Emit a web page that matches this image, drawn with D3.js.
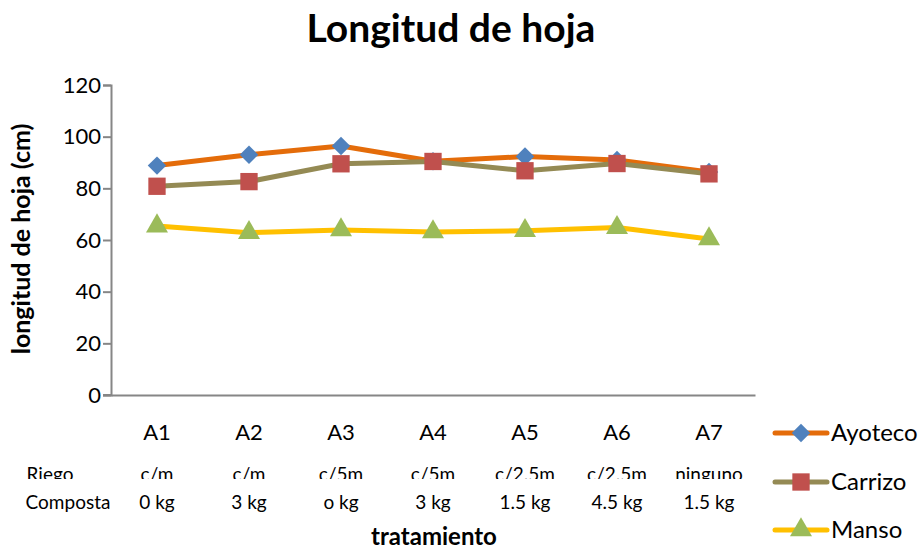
<!DOCTYPE html>
<html>
<head>
<meta charset="utf-8">
<script src="https://cdn.jsdelivr.net/npm/d3@7"></script>
<style>
  body { margin: 0; background: #fff; }
  text { font-family: Lato, "Open Sans", sans-serif; fill: #000; }
</style>
</head>
<body>
<div id="chart"></div>
<script>
// data
var categories = ["A1", "A2", "A3", "A4", "A5", "A6", "A7"];
var riego = ["c/m", "c/m", "c/5m", "c/5m", "c/2.5m", "c/2.5m", "ninguno"];
var composta = ["0 kg", "3 kg", "o kg", "3 kg", "1.5 kg", "4.5 kg", "1.5 kg"];
var ayoteco = [88.8, 93.0, 96.4, 90.5, 92.3, 91.0, 86.3];
var carrizo = [80.8, 82.6, 89.5, 90.4, 86.8, 89.6, 85.6];
var manso = [65.4, 62.8, 63.9, 63.1, 63.6, 64.8, 60.4];
var yTicks = [0, 20, 40, 60, 80, 100, 120];

var series = [
    { name: "Ayoteco", values: ayoteco, line: "#E46C0A", marker: "#4F81BD", shape: "diamond" },
    { name: "Carrizo", values: carrizo, line: "#948A54", marker: "#C0504D", shape: "square" },
    { name: "Manso",   values: manso,   line: "#FFC000", marker: "#9BBB59", shape: "triangle" }
];

var width = 924, height = 550;
var plotLeft = 111, plotRight = 755, plotTop = 85, plotBottom = 395;

var svg = d3.select("#chart").append("svg")
    .attr("width", width)
    .attr("height", height);

var x = d3.scaleBand().domain(categories).range([plotLeft, plotRight]);
var y = d3.scaleLinear().domain([0, 120]).range([plotBottom, plotTop]);
var cx = function (d) { return x(d) + x.bandwidth() / 2; };

// title
svg.append("text")
    .attr("x", 451).attr("y", 42)
    .attr("text-anchor", "middle")
    .style("font-size", "39px").style("font-weight", "bold")
    .text("Longitud de hoja");

// y axis
var yAxis = svg.append("g")
    .attr("transform", "translate(" + plotLeft + ",0)")
    .call(d3.axisLeft(y).tickValues(yTicks).tickSize(8).tickPadding(2));
yAxis.select(".domain").attr("stroke", "#868686").attr("stroke-width", 2);
yAxis.selectAll(".tick line").attr("stroke", "#868686").attr("stroke-width", 2);
yAxis.selectAll(".tick text")
    .style("font-size", "22px")
    .style("font-family", "Lato, 'Open Sans', sans-serif")
    .attr("fill", "#000");

// x axis line (no ticks, labels drawn below)
var xAxis = svg.append("g")
    .attr("transform", "translate(0," + plotBottom + ")")
    .call(d3.axisBottom(x).tickSize(0).tickFormat(""));
xAxis.select(".domain").attr("stroke", "#868686").attr("stroke-width", 2);
svg.append("line")
    .attr("x1", plotLeft - 8).attr("x2", plotLeft)
    .attr("y1", plotBottom).attr("y2", plotBottom)
    .attr("stroke", "#868686").attr("stroke-width", 2);

// category labels
svg.selectAll("text.cat").data(categories).enter().append("text")
    .attr("class", "cat")
    .attr("x", cx).attr("y", 440)
    .attr("text-anchor", "middle")
    .style("font-size", "22px")
    .text(function (d) { return d; });

// Riego row (clipped at bottom as in the original)
svg.append("clipPath").attr("id", "riegoClip")
    .append("rect").attr("x", 0).attr("y", 455).attr("width", 800).attr("height", 24);
var riegoRow = svg.append("g").attr("clip-path", "url(#riegoClip)");
riegoRow.append("text")
    .attr("x", 50).attr("y", 481)
    .attr("text-anchor", "middle")
    .style("font-size", "19px")
    .text("Riego");
riegoRow.selectAll("text.riego").data(riego).enter().append("text")
    .attr("class", "riego")
    .attr("x", function (d, i) { return cx(categories[i]); }).attr("y", 481)
    .attr("text-anchor", "middle")
    .style("font-size", "19px")
    .text(function (d) { return d; });

// Composta row
svg.append("text")
    .attr("x", 68).attr("y", 509)
    .attr("text-anchor", "middle")
    .style("font-size", "19px")
    .text("Composta");
svg.selectAll("text.comp").data(composta).enter().append("text")
    .attr("class", "comp")
    .attr("x", function (d, i) { return cx(categories[i]); }).attr("y", 509)
    .attr("text-anchor", "middle")
    .style("font-size", "19px")
    .text(function (d) { return d; });

// axis titles
svg.append("text")
    .attr("x", 434).attr("y", 545)
    .attr("text-anchor", "middle")
    .style("font-size", "24px").style("font-weight", "bold")
    .text("tratamiento");
svg.append("text")
    .attr("transform", "translate(30,239) rotate(-90)")
    .attr("text-anchor", "middle")
    .style("font-size", "25px").style("font-weight", "bold")
    .text("longitud de hoja (cm)");

var symbolFor = {
    diamond: d3.symbol().type(d3.symbolSquare).size(170),
    square: d3.symbol().type(d3.symbolSquare).size(300),
    triangle: d3.symbol().type(d3.symbolTriangle).size(210)
};
function drawMarker(g, s, px, py) {
    g.append("path")
        .attr("d", symbolFor[s.shape]())
        .attr("transform", "translate(" + px + "," + py + ")" + (s.shape === "diamond" ? " rotate(45)" : ""))
        .attr("fill", s.marker);
}

var line = d3.line()
    .x(function (d, i) { return cx(categories[i]); })
    .y(function (d) { return y(d); });

// lines first, then markers on top per series
series.forEach(function (s) {
    var g = svg.append("g");
    g.append("path")
        .datum(s.values)
        .attr("d", line)
        .attr("fill", "none")
        .attr("stroke", s.line)
        .attr("stroke-width", 5)
        .attr("stroke-linejoin", "round");
    s.values.forEach(function (v, i) {
        drawMarker(g, s, cx(categories[i]), y(v));
    });
});

// legend
var legendY = [433, 482, 530];
series.forEach(function (s, i) {
    var g = svg.append("g");
    g.append("line")
        .attr("x1", 775).attr("x2", 827)
        .attr("y1", legendY[i]).attr("y2", legendY[i])
        .attr("stroke", s.line).attr("stroke-width", 5)
        .attr("stroke-linecap", "round");
    drawMarker(g, s, 801, legendY[i]);
    g.append("text")
        .attr("x", 831).attr("y", legendY[i] + 8)
        .style("font-size", "24px")
        .text(s.name);
});
</script>
</body>
</html>
